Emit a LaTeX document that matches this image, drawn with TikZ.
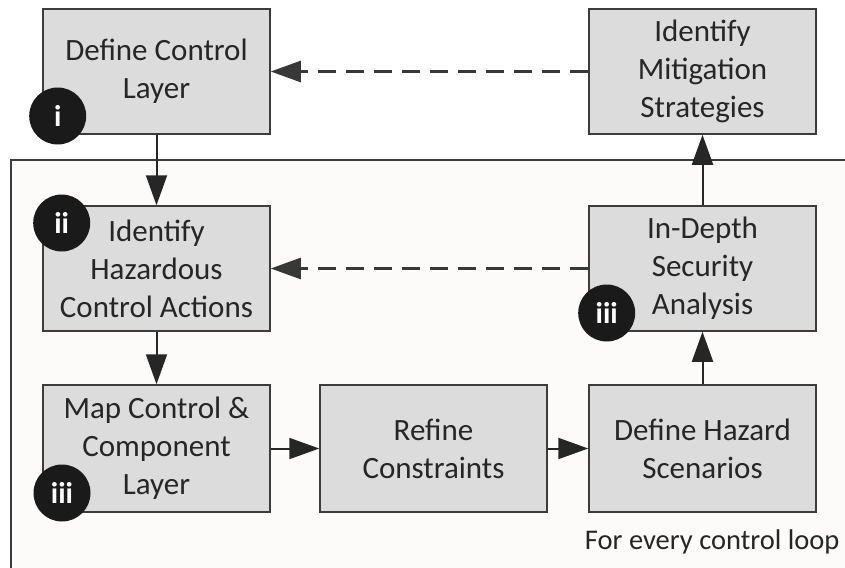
\documentclass[tikz,border=0pt]{standalone}
\usepackage{fontspec}
\setmainfont{Carlito}
\usetikzlibrary{arrows.meta}
\definecolor{boxfill}{HTML}{DCDCDC}
\definecolor{boxline}{HTML}{3C3C3C}
\definecolor{loopfill}{HTML}{FCFBFA}
\definecolor{badge}{HTML}{1A1A1A}
\tikzset{
  stepbox/.style={draw=boxline, fill=boxfill, line width=1.5pt,
    minimum width=227pt, minimum height=125pt, align=center,
    inner sep=0pt, font=\fontsize{31}{38}\selectfont, text=black!85},
  badgenode/.style={circle, fill=badge, minimum size=57pt, inner sep=0pt,
    text=white, font=\fontsize{30}{30}\selectfont\bfseries},
  flow/.style={draw=black!85, line width=2pt,
    -{Triangle[length=30pt, width=21pt]}},
  back/.style={draw=black!78, line width=2.4pt, dash pattern=on 18pt off 10pt,
    -{Triangle[length=30pt, width=21pt]}},
}
\begin{document}
\begin{tikzpicture}[x=1pt, y=-1pt]
\useasboundingbox (0,0) rectangle (845,567);
\fill[white] (0,0) rectangle (845,567);

% region repeated for every control loop
\draw[draw=boxline, fill=loopfill, line width=1.2pt]
  (11,600) -- (11,160) -- (860,160);
\fill[loopfill] (11.6,160.6) rectangle (860,600);

% process steps
\node[stepbox] (def) at (156.5,71.5) {Define Control\\Layer};
\node[stepbox] (mit) at (702.5,71.5) {Identify\\Mitigation\\Strategies};
\node[stepbox] (haz) at (156.5,268.5) {Identify\\Hazardous\\Control Actions};
\node[stepbox] (ida) at (702.5,268.5) {In-Depth\\Security\\Analysis};
\node[stepbox, minimum height=127pt] (map) at (156.5,448.5) {Map Control \&\\Component\\Layer};
\node[stepbox, minimum height=127pt] (ref) at (433.5,448.5) {Refine\\Constraints};
\node[stepbox, minimum height=127pt] (dhs) at (702.5,448.5) {Define Hazard\\Scenarios};

% numbered badges
\node[badgenode] (bi) at (57.7,116) {i};
\node[badgenode] (bii) at (61.7,223) {ii};
\node[badgenode] (biiia) at (606.7,313) {iii};
\node[badgenode] (biiib) at (62,493) {iii};

% forward flow
\draw[flow] (def.south) -- (haz.north);
\draw[flow] (haz.south) -- (map.north);
\draw[flow] (map.east) -- (ref.west);
\draw[flow] (ref.east) -- (dhs.west);
\draw[flow] (dhs.north) -- (ida.south);
\draw[flow] (ida.north) -- (mit.south);

% feedback
\draw[back] (mit.west) -- (def.east);
\draw[back] (ida.west) -- (haz.east);

\node[anchor=base east, font=\fontsize{28.5}{28.5}\selectfont, text=black!85]
  (loop) at (843,549) {For every control loop};
\end{tikzpicture}
\end{document}
